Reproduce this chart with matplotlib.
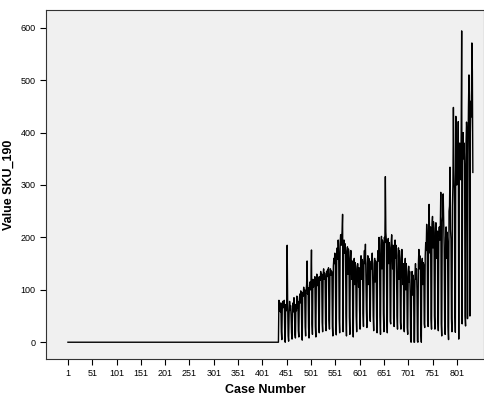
import matplotlib
matplotlib.use("Agg")
import matplotlib.pyplot as plt
import numpy as np

plt.rcParams['font.family'] = ['Liberation Sans', 'DejaVu Sans']

# cases 1..434 are flat zero, then weekly rows of daily values from case 435
zero_cases = [0] * 434
weeks = [
    [80, 62, 72, 58, 75, 20, 5],
    [70, 78, 66, 74, 80, 15, 0],
    [72, 60, 68, 185, 74, 12, 2],
    [55, 78, 62, 70, 52, 18, 6],
    [64, 75, 58, 85, 60, 14, 8],
    [72, 60, 88, 66, 78, 22, 10],
    [80, 92, 75, 98, 85, 25, 4],
    [95, 88, 105, 90, 100, 30, 12],
    [98, 110, 155, 92, 104, 28, 8],
    [108, 115, 100, 112, 176, 35, 15],
    [120, 105, 118, 112, 125, 30, 10],
    [115, 130, 108, 125, 118, 40, 18],
    [125, 118, 135, 122, 130, 38, 20],
    [128, 140, 120, 132, 126, 35, 22],
    [135, 125, 138, 130, 142, 42, 25],
    [130, 140, 128, 136, 134, 30, 12],
    [145, 160, 150, 170, 155, 40, 14],
    [165, 180, 158, 195, 172, 45, 18],
    [190, 205, 185, 200, 210, 244, 20],
    [178, 195, 170, 188, 175, 55, 12],
    [170, 182, 130, 178, 172, 48, 15],
    [160, 175, 150, 120, 155, 44, 10],
    [148, 160, 110, 152, 145, 50, 20],
    [140, 150, 135, 105, 142, 60, 25],
    [150, 165, 120, 158, 155, 55, 30],
    [158, 175, 150, 187, 125, 62, 28],
    [150, 165, 110, 160, 155, 58, 40],
    [145, 155, 140, 170, 120, 50, 22],
    [150, 160, 115, 155, 148, 45, 18],
    [160, 175, 155, 200, 170, 50, 15],
    [185, 202, 140, 195, 190, 55, 20],
    [200, 190, 316, 210, 195, 45, 18],
    [185, 198, 150, 190, 180, 40, 35],
    [190, 205, 180, 140, 185, 45, 30],
    [175, 195, 160, 185, 130, 50, 25],
    [165, 180, 120, 175, 160, 38, 25],
    [155, 177, 140, 110, 150, 30, 20],
    [140, 160, 100, 150, 135, 28, 15],
    [125, 145, 115, 135, 95, 5, 0],
    [120, 135, 90, 128, 118, 0, 0],
    [130, 150, 120, 140, 100, 2, 0],
    [150, 177, 140, 165, 155, 20, 0],
    [145, 160, 110, 152, 148, 35, 28],
    [165, 190, 175, 225, 200, 40, 30],
    [215, 263, 205, 170, 220, 45, 25],
    [225, 240, 180, 230, 218, 50, 25],
    [210, 228, 200, 160, 212, 44, 22],
    [205, 220, 195, 215, 286, 35, 12],
    [230, 240, 283, 225, 180, 40, 15],
    [200, 220, 160, 210, 190, 30, 5],
    [250, 260, 334, 215, 197, 45, 20],
    [260, 300, 448, 330, 290, 60, 19],
    [431, 350, 300, 330, 310, 421, 6],
    [340, 380, 360, 310, 400, 594, 35],
    [360, 400, 350, 380, 340, 50, 31],
    [380, 420, 400, 45, 360, 450, 510],
    [470, 50, 400, 460, 430, 571, 517],
    [324],
]

values = zero_cases + [v for w in weeks for v in w]
cases = np.arange(1, len(values) + 1)

x_ticks = list(range(1, 802, 50))
y_ticks = list(range(0, 601, 100))

fig = plt.figure(figsize=(4.85, 3.98), dpi=100)
ax = fig.add_axes([0.095, 0.098, 0.903, 0.877])
ax.set_facecolor('#f0f0f0')
ax.plot(cases, values, color='black', linewidth=1.0)

ax.set_xlim(-44, 857)
ax.set_ylim(-32, 634)
ax.set_xticks(x_ticks)
ax.set_yticks(y_ticks)
ax.tick_params(labelsize=6.5, length=4, width=0.8, direction='out')
for s in ax.spines.values():
    s.set_linewidth(0.8)
    s.set_color('#333333')

ax.set_xlabel('Case Number', fontsize=9, fontweight='bold', labelpad=4)
ax.set_ylabel('Value SKU_190', fontsize=9, fontweight='bold', labelpad=4)

fig.savefig('out.png', dpi=100)
